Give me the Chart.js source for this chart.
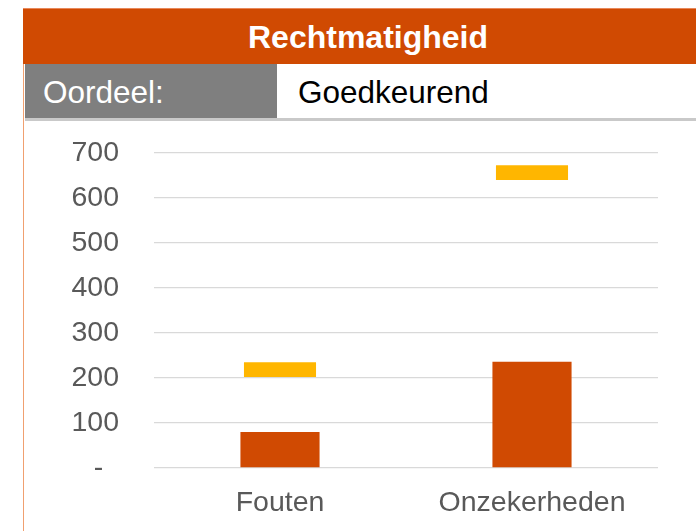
<!DOCTYPE html>
<html>
<head>
<meta charset="utf-8">
<script src="https://cdn.jsdelivr.net/npm/chart.js@4/dist/chart.umd.min.js"></script>
<style>
    html, body { margin: 0; padding: 0; background: #ffffff; }
    body { width: 696px; height: 531px; position: relative; overflow: hidden; font-family: "Liberation Sans", Arial, sans-serif; }
    #leftLine { position: absolute; left: 23px; top: 8px; width: 1px; height: 523px; background: #f0a070; }
    #header { position: absolute; left: 23px; top: 8px; width: 720px; height: 56px; background: #d04a02; border-top: 1px solid #e8885a; box-sizing: border-box; }
    #header span { position: absolute; left: 225px; top: 11px; color: #ffffff; font-weight: bold; font-size: 32px; line-height: 34px; }
    #rowLabel { position: absolute; left: 25px; top: 64px; width: 252px; height: 54px; background: #7f7f7f; }
    #rowLabel span { position: absolute; left: 18px; top: 11px; color: #ffffff; font-size: 31.5px; line-height: 34px; }
    #rowValue { position: absolute; left: 298px; top: 75px; color: #000000; font-size: 31.5px; line-height: 34px; }
    #rowLine { position: absolute; left: 25px; top: 118px; width: 671px; height: 3px; background: #c9c9c9; }
    #chartBox { position: absolute; left: 25px; top: 121px; width: 671px; height: 410px; }
</style>
</head>
<body>
<div id="leftLine"></div>
<div id="header"><span>Rechtmatigheid</span></div>
<div id="rowLabel"><span>Oordeel:</span></div>
<div id="rowValue">Goedkeurend</div>
<div id="rowLine"></div>
<div id="chartBox"><canvas id="chart"></canvas></div>

<script>
    // --- Datos ---
    const categorieen = ['Fouten', 'Onzekerheden'];
    const waarden = [80, 236];              // oranje staven
    const bandLaag = [202, 640];            // gele markering, onderkant
    const bandHoog = [235, 673];            // gele markering, bovenkant
    const yTicks = [0, 100, 200, 300, 400, 500, 600, 700];

    const ORANJE = '#d04a02';
    const GEEL = '#ffb600';
    const GRIJS_TEKST = '#595959';

    const ctx = document.getElementById('chart').getContext('2d');

    new Chart(ctx, {
        type: 'bar',
        data: {
            labels: categorieen,
            datasets: [
                {
                    label: 'Waarde',
                    data: waarden,
                    backgroundColor: ORANJE,
                    barPercentage: 0.314,
                    categoryPercentage: 1,
                    grouped: false,
                    order: 2
                },
                {
                    label: 'Marge',
                    data: bandLaag.map((v, i) => [v, bandHoog[i]]),
                    backgroundColor: GEEL,
                    barPercentage: 0.286,
                    categoryPercentage: 1,
                    grouped: false,
                    order: 1
                }
            ]
        },
        options: {
            responsive: true,
            maintainAspectRatio: false,
            animation: false,
            layout: { padding: { top: 32, right: 38, left: 0, bottom: 0 } },
            plugins: {
                legend: { display: false },
                tooltip: { enabled: false }
            },
            scales: {
                x: {
                    grid: { display: false, drawTicks: false },
                    border: { display: false },
                    ticks: {
                        color: GRIJS_TEKST,
                        font: { family: 'Liberation Sans', size: 28.5 },
                        padding: 18
                    },
                    afterFit: (scale) => { scale.height = 63; }
                },
                y: {
                    min: 0,
                    max: 700,
                    afterBuildTicks: (scale) => { scale.ticks = yTicks.map(v => ({ value: v })); },
                    grid: { color: '#d9d9d9', lineWidth: 1.3, drawTicks: false },
                    border: { display: false },
                    ticks: {
                        color: GRIJS_TEKST,
                        font: { family: 'Liberation Sans', size: 28.5 },
                        padding: 35,
                        // nul wordt als streepje getoond, zoals in Excel
                        callback: (v) => v === 0 ? '-  ' : v
                    },
                    afterFit: (scale) => {
                        scale.width = 129;
                        scale.paddingTop = 0;
                        scale.paddingBottom = 0;
                    }
                }
            }
        }
    });
</script>
</body>
</html>
